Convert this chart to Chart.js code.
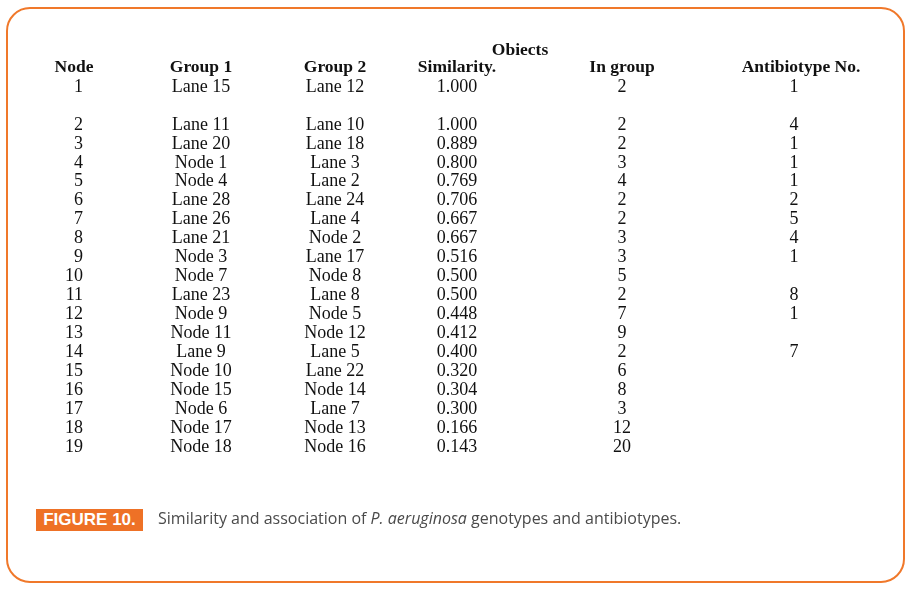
<!DOCTYPE html>
<html>
<head>
<meta charset="utf-8">
<script src="https://cdn.jsdelivr.net/npm/chart.js@4/dist/chart.umd.min.js"></script>
<style>
  html, body { margin: 0; padding: 0; background: #ffffff; }
  #wrap { position: relative; width: 910px; height: 589px; overflow: hidden; }
  #frame { position: absolute; left: 6px; top: 7px; width: 895px; height: 572px;
           border: 2px solid #F0782A; border-radius: 24px; }
  canvas { position: absolute; left: 0; top: 0; }
  #figtag { position: absolute; left: 36px; top: 509px; width: 107px; height: 22px;
            background: #EE7126; color: #fff; font: bold 17px "Liberation Sans Narrow", "Liberation Sans", Arial, sans-serif;
            line-height: 22px; text-align: center; }
  #figcap { position: absolute; left: 158px; top: 507px; line-height: 24px;
            font: 16px "Open Sans", Lato, sans-serif; color: #4A4A4A; white-space: nowrap; }
</style>
</head>
<body>
<div id="wrap">
  <div id="frame"></div>
  <canvas id="c" width="910" height="589"></canvas>
  <div id="figtag">FIGURE 10.</div>
  <div id="figcap">Similarity and association of <i>P. aeruginosa</i> genotypes and antibiotypes.</div>
</div>
<script>
// ---------- DATA ----------
const headers      = ["Node", "Group 1", "Group 2", "Similarity.", "In group", "Antibiotype No."];
const headerTop    = ["", "", "", "", "Obiects", ""];
const nodes        = [1,2,3,4,5,6,7,8,9,10,11,12,13,14,15,16,17,18,19];
const group1       = ["Lane 15","Lane 11","Lane 20","Node 1","Node 4","Lane 28","Lane 26","Lane 21","Node 3","Node 7",
                      "Lane 23","Node 9","Node 11","Lane 9","Node 10","Node 15","Node 6","Node 17","Node 18"];
const group2       = ["Lane 12","Lane 10","Lane 18","Lane 3","Lane 2","Lane 24","Lane 4","Node 2","Lane 17","Node 8",
                      "Lane 8","Node 5","Node 12","Lane 5","Lane 22","Node 14","Lane 7","Node 13","Node 16"];
const similarity   = [1.000,1.000,0.889,0.800,0.769,0.706,0.667,0.667,0.516,0.500,
                      0.500,0.448,0.412,0.400,0.320,0.304,0.300,0.166,0.143];
const inGroup      = [2,2,2,3,4,2,2,3,3,5,2,7,9,2,6,8,3,12,20];
const antibiotype  = [1,4,1,1,1,2,5,4,1,null,8,1,null,7,null,null,null,null,null];

// ---------- LAYOUT (scale units) ----------
const COL_X      = [83, 201, 335, 457, 622, 794];      // value anchors
const COL_ALIGN  = ["right","center","center","center","center","center"];
const HEAD_X     = [74, 201, 335, 457, 622, 801];
const TOP_HEAD_X = [0, 0, 0, 0, 520, 0];
const HEAD_ROW = -1.04, TOP_HEAD_ROW = -1.94;
const rowIndex = i => (i === 0 ? 0 : i + 1);           // blank line after the first node

const columns = [
  nodes.map(String),
  group1,
  group2,
  similarity.map(v => v.toFixed(3)),
  inGroup.map(String),
  antibiotype.map(v => v == null ? "" : String(v))
];

const BODY_FONT = '18px "Liberation Serif"';
const HEAD_FONT = 'bold 17.5px "Liberation Serif"';

const datasets = [];
columns.forEach((col, c) => {
  datasets.push({
    label: headers[c],
    data: col.map((t, i) => ({ x: COL_X[c], y: rowIndex(i), text: t })),
    textFont: BODY_FONT, textAlign: COL_ALIGN[c]
  });
});
datasets.push({
  label: "headers",
  data: headers.map((h, c) => ({ x: HEAD_X[c], y: HEAD_ROW, text: h })),
  textFont: HEAD_FONT, textAlign: "center"
});
datasets.push({
  label: "topHeaders",
  data: headerTop.map((h, c) => ({ x: TOP_HEAD_X[c], y: TOP_HEAD_ROW, text: h })).filter(d => d.text),
  textFont: HEAD_FONT, textAlign: "center"
});
datasets.forEach(d => { d.pointRadius = 0; d.showLine = false; });

const textPlugin = {
  id: 'cellText',
  afterDatasetsDraw(chart) {
    const ctx = chart.ctx;
    ctx.save();
    ctx.fillStyle = '#111111';
    ctx.textBaseline = 'alphabetic';
    chart.data.datasets.forEach((ds, di) => {
      const meta = chart.getDatasetMeta(di);
      ctx.font = ds.textFont + ', "Times New Roman", serif';
      ctx.textAlign = ds.textAlign;
      meta.data.forEach((el, i) => {
        const t = ds.data[i].text;
        if (t) ctx.fillText(t, el.x, el.y);
      });
    });
    ctx.restore();
  }
};

// y: row index -> baseline; pitch ~18.95 px per row
const ROW_PITCH = 18.95, FIRST_BASELINE = 91.7, H = 589, W = 910;
const yMin = -FIRST_BASELINE / ROW_PITCH;
const yMax = yMin + H / ROW_PITCH;

function build() {
  new Chart(document.getElementById('c'), {
    type: 'scatter',
    data: { datasets },
    options: {
      responsive: false,
      animation: false,
      events: [],
      layout: { padding: 0 },
      plugins: { legend: { display: false }, tooltip: { enabled: false }, title: { display: false } },
      scales: {
        x: { type: 'linear', display: false, min: 0, max: W },
        y: { type: 'linear', display: false, reverse: true, min: yMin, max: yMax }
      }
    },
    plugins: [textPlugin]
  });
}
Promise.all([document.fonts.load(BODY_FONT), document.fonts.load(HEAD_FONT)])
  .then(build, build);
</script>
</body>
</html>
